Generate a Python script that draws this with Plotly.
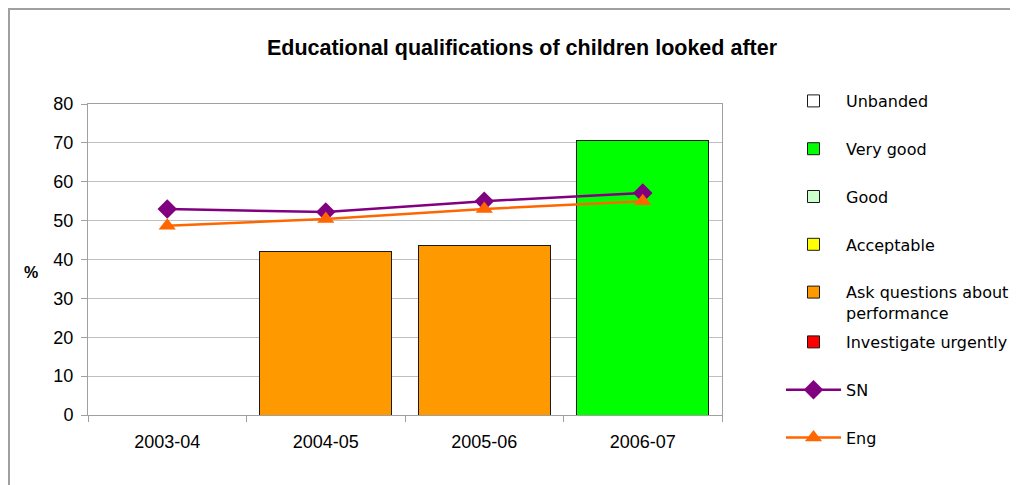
import plotly.graph_objects as go

categories = ["2003-04", "2004-05", "2005-06", "2006-07"]

band_names = ["Unbanded", "Very good", "Good", "Acceptable",
              "Ask questions about<br>performance", "Investigate urgently"]
band_colors = ["#FFFFFF", "#00FF00", "#CCFFCC", "#FFFF00", "#FF9900", "#FF0000"]
band_values = [
    [None, None, None, None],
    [None, None, None, 70.6],
    [None, None, None, None],
    [None, None, None, None],
    [None, 42.1, 43.6, None],
    [None, None, None, None],
]

sn_values = [53.0, 52.2, 55.0, 57.1]
eng_values = [48.7, 50.4, 53.0, 55.0]

# page is offset by the browser's 8px body margin; work in figure pixels
OFF = 8
W, H = 1018 - OFF, 485 - OFF
L, R, T, B = 88 - OFF, W - (722 - OFF), 104 - OFF, H - (415 - OFF)
pw, ph = W - L - R, H - T - B


def px_x(page_x):
    return (page_x - OFF - L) / pw


def px_y(page_y):
    return 1 - (page_y - OFF - T) / ph


fig = go.Figure()
for i, (name, col, vals) in enumerate(zip(band_names, band_colors, band_values)):
    fig.add_trace(go.Bar(
        x=categories, y=vals, name=name, width=0.83,
        marker=dict(color=col, line=dict(color="#1A1A1A", width=1)),
        legendgroup="g%d" % i,
        legend="legend" if i < 5 else "legend2",
    ))

fig.add_trace(go.Scatter(
    x=categories, y=sn_values, name="SN", mode="lines+markers",
    line=dict(color="#800080", width=2.5),
    marker=dict(symbol="diamond", size=15, color="#800080"),
    legendgroup="sn", legend="legend2",
))
fig.add_trace(go.Scatter(
    x=categories, y=eng_values, name="Eng", mode="lines+markers",
    line=dict(color="#FF6600", width=2.5),
    marker=dict(symbol="triangle-up", size=15, color="#FF6600"),
    legendgroup="eng", legend="legend2",
))

legend_common = dict(
    xanchor="left", yanchor="top",
    font=dict(family="DejaVu Sans, Tahoma, sans-serif", size=16),
    traceorder="grouped", tracegroupgap=24, itemwidth=55,
    bgcolor="rgba(0,0,0,0)", valign="top",
)

fig.update_layout(
    width=W, height=H,
    margin=dict(l=L, r=R, t=T, b=B, autoexpand=False),
    paper_bgcolor="white", plot_bgcolor="white",
    barmode="stack",
    font=dict(family="Liberation Sans, Arial, sans-serif", size=18, color="#000000"),
    title=dict(text="<b>Educational qualifications of children looked after</b>",
               x=px_x(522), xref="paper", xanchor="center",
               y=1 - (47 - OFF) / H, yanchor="middle",
               font=dict(size=21.5)),
    showlegend=True,
    legend=dict(x=px_x(781), y=px_y(101 - 17), **legend_common),
    legend2=dict(x=px_x(781), y=px_y(342 - 17), **legend_common),
    xaxis=dict(
        type="category",
        showgrid=False, showline=True, linecolor="#A0A0A0", linewidth=1,
        ticks="outside", tickcolor="#A0A0A0", ticklen=6,
        tickson="boundaries", mirror=True,
        tickfont=dict(size=18), ticklabelstandoff=10,
    ),
    yaxis=dict(
        range=[0, 80], dtick=10, showgrid=True, gridcolor="#C0C0C0", gridwidth=1,
        showline=True, linecolor="#A0A0A0", linewidth=1, mirror=True,
        ticks="outside", tickcolor="#A0A0A0", ticklen=6,
        tickfont=dict(size=18), zeroline=False, ticklabelstandoff=4,
    ),
    annotations=[dict(
        text="<b>%</b>", x=px_x(31), xref="paper", y=px_y(272), yref="paper",
        showarrow=False, font=dict(size=16), xanchor="center", yanchor="middle",
    )],
    shapes=[dict(
        type="rect", xref="paper", yref="paper",
        x0=px_x(9), x1=px_x(1040),
        y0=px_y(500), y1=px_y(9),
        line=dict(color="#A0A0A0", width=2), layer="below",
    )],
)

fig.write_html("out.html")
